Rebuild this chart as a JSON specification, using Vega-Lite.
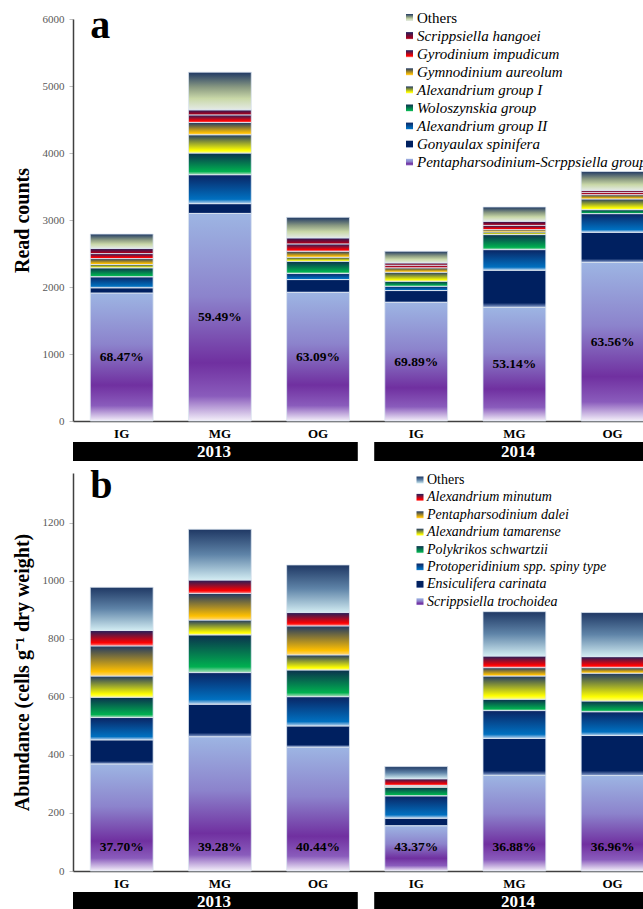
{
  "$schema": "https://vega.github.io/schema/vega-lite/v6.json",
  "padding": {"left": 12, "top": 5, "right": 0, "bottom": 0},
  "config": {"view": {"stroke": null}, "font": "Liberation Serif"},
  "datasets": {
    "a": [
      {"bar": "2013 IG", "taxon": "Pentapharsodinium-Scrppsiella group I", "k": 1, "count": 1910, "pct": "68.47%"},
      {"bar": "2013 IG", "taxon": "Gonyaulax spinifera", "k": 2, "count": 78},
      {"bar": "2013 IG", "taxon": "Alexandrium group II", "k": 3, "count": 164},
      {"bar": "2013 IG", "taxon": "Woloszynskia group", "k": 4, "count": 134},
      {"bar": "2013 IG", "taxon": "Alexandrium group I", "k": 5, "count": 49},
      {"bar": "2013 IG", "taxon": "Gymnodinium aureolum", "k": 6, "count": 89},
      {"bar": "2013 IG", "taxon": "Gyrodinium impudicum", "k": 7, "count": 75},
      {"bar": "2013 IG", "taxon": "Scrippsiella hangoei", "k": 8, "count": 75},
      {"bar": "2013 IG", "taxon": "Others", "k": 9, "count": 216},
      {"bar": "2013 MG", "taxon": "Pentapharsodinium-Scrppsiella group I", "k": 1, "count": 3097, "pct": "59.49%"},
      {"bar": "2013 MG", "taxon": "Gonyaulax spinifera", "k": 2, "count": 147},
      {"bar": "2013 MG", "taxon": "Alexandrium group II", "k": 3, "count": 432},
      {"bar": "2013 MG", "taxon": "Woloszynskia group", "k": 4, "count": 323},
      {"bar": "2013 MG", "taxon": "Alexandrium group I", "k": 5, "count": 273},
      {"bar": "2013 MG", "taxon": "Gymnodinium aureolum", "k": 6, "count": 183},
      {"bar": "2013 MG", "taxon": "Gyrodinium impudicum", "k": 7, "count": 114},
      {"bar": "2013 MG", "taxon": "Scrippsiella hangoei", "k": 8, "count": 75},
      {"bar": "2013 MG", "taxon": "Others", "k": 9, "count": 562},
      {"bar": "2013 OG", "taxon": "Pentapharsodinium-Scrppsiella group I", "k": 1, "count": 1918, "pct": "63.09%"},
      {"bar": "2013 OG", "taxon": "Gonyaulax spinifera", "k": 2, "count": 193},
      {"bar": "2013 OG", "taxon": "Alexandrium group II", "k": 3, "count": 90},
      {"bar": "2013 OG", "taxon": "Woloszynskia group", "k": 4, "count": 183},
      {"bar": "2013 OG", "taxon": "Alexandrium group I", "k": 5, "count": 60},
      {"bar": "2013 OG", "taxon": "Gymnodinium aureolum", "k": 6, "count": 89},
      {"bar": "2013 OG", "taxon": "Gyrodinium impudicum", "k": 7, "count": 110},
      {"bar": "2013 OG", "taxon": "Scrippsiella hangoei", "k": 8, "count": 90},
      {"bar": "2013 OG", "taxon": "Others", "k": 9, "count": 307},
      {"bar": "2014 IG", "taxon": "Pentapharsodinium-Scrppsiella group I", "k": 1, "count": 1770, "pct": "69.89%"},
      {"bar": "2014 IG", "taxon": "Gonyaulax spinifera", "k": 2, "count": 177},
      {"bar": "2014 IG", "taxon": "Alexandrium group II", "k": 3, "count": 65},
      {"bar": "2014 IG", "taxon": "Woloszynskia group", "k": 4, "count": 74},
      {"bar": "2014 IG", "taxon": "Alexandrium group I", "k": 5, "count": 135},
      {"bar": "2014 IG", "taxon": "Gymnodinium aureolum", "k": 6, "count": 65},
      {"bar": "2014 IG", "taxon": "Gyrodinium impudicum", "k": 7, "count": 39},
      {"bar": "2014 IG", "taxon": "Scrippsiella hangoei", "k": 8, "count": 35},
      {"bar": "2014 IG", "taxon": "Others", "k": 9, "count": 173},
      {"bar": "2014 MG", "taxon": "Pentapharsodinium-Scrppsiella group I", "k": 1, "count": 1697, "pct": "53.14%"},
      {"bar": "2014 MG", "taxon": "Gonyaulax spinifera", "k": 2, "count": 553},
      {"bar": "2014 MG", "taxon": "Alexandrium group II", "k": 3, "count": 308},
      {"bar": "2014 MG", "taxon": "Woloszynskia group", "k": 4, "count": 224},
      {"bar": "2014 MG", "taxon": "Alexandrium group I", "k": 5, "count": 40},
      {"bar": "2014 MG", "taxon": "Gymnodinium aureolum", "k": 6, "count": 34},
      {"bar": "2014 MG", "taxon": "Gyrodinium impudicum", "k": 7, "count": 64},
      {"bar": "2014 MG", "taxon": "Scrippsiella hangoei", "k": 8, "count": 60},
      {"bar": "2014 MG", "taxon": "Others", "k": 9, "count": 214},
      {"bar": "2014 OG", "taxon": "Pentapharsodinium-Scrppsiella group I", "k": 1, "count": 2368, "pct": "63.56%"},
      {"bar": "2014 OG", "taxon": "Gonyaulax spinifera", "k": 2, "count": 448},
      {"bar": "2014 OG", "taxon": "Alexandrium group II", "k": 3, "count": 279},
      {"bar": "2014 OG", "taxon": "Woloszynskia group", "k": 4, "count": 59},
      {"bar": "2014 OG", "taxon": "Alexandrium group I", "k": 5, "count": 160},
      {"bar": "2014 OG", "taxon": "Gymnodinium aureolum", "k": 6, "count": 64},
      {"bar": "2014 OG", "taxon": "Gyrodinium impudicum", "k": 7, "count": 34},
      {"bar": "2014 OG", "taxon": "Scrippsiella hangoei", "k": 8, "count": 30},
      {"bar": "2014 OG", "taxon": "Others", "k": 9, "count": 283}
    ],
    "b": [
      {"bar": "2013 IG", "taxon": "Scrippsiella trochoidea", "k": 1, "count": 369, "pct": "37.70%"},
      {"bar": "2013 IG", "taxon": "Ensiculifera carinata", "k": 2, "count": 83},
      {"bar": "2013 IG", "taxon": "Protoperidinium spp. spiny type", "k": 3, "count": 77},
      {"bar": "2013 IG", "taxon": "Polykrikos schwartzii", "k": 4, "count": 70},
      {"bar": "2013 IG", "taxon": "Alexandrium tamarense", "k": 5, "count": 73},
      {"bar": "2013 IG", "taxon": "Pentapharsodinium dalei", "k": 6, "count": 104},
      {"bar": "2013 IG", "taxon": "Alexandrium minutum", "k": 7, "count": 53},
      {"bar": "2013 IG", "taxon": "Others", "k": 8, "count": 149},
      {"bar": "2013 MG", "taxon": "Scrippsiella trochoidea", "k": 1, "count": 463, "pct": "39.28%"},
      {"bar": "2013 MG", "taxon": "Ensiculifera carinata", "k": 2, "count": 112},
      {"bar": "2013 MG", "taxon": "Protoperidinium spp. spiny type", "k": 3, "count": 109},
      {"bar": "2013 MG", "taxon": "Polykrikos schwartzii", "k": 4, "count": 130},
      {"bar": "2013 MG", "taxon": "Alexandrium tamarense", "k": 5, "count": 51},
      {"bar": "2013 MG", "taxon": "Pentapharsodinium dalei", "k": 6, "count": 92},
      {"bar": "2013 MG", "taxon": "Alexandrium minutum", "k": 7, "count": 46},
      {"bar": "2013 MG", "taxon": "Others", "k": 8, "count": 175},
      {"bar": "2013 OG", "taxon": "Scrippsiella trochoidea", "k": 1, "count": 427, "pct": "40.44%"},
      {"bar": "2013 OG", "taxon": "Ensiculifera carinata", "k": 2, "count": 73},
      {"bar": "2013 OG", "taxon": "Protoperidinium spp. spiny type", "k": 3, "count": 101},
      {"bar": "2013 OG", "taxon": "Polykrikos schwartzii", "k": 4, "count": 92},
      {"bar": "2013 OG", "taxon": "Alexandrium tamarense", "k": 5, "count": 52},
      {"bar": "2013 OG", "taxon": "Pentapharsodinium dalei", "k": 6, "count": 100},
      {"bar": "2013 OG", "taxon": "Alexandrium minutum", "k": 7, "count": 46},
      {"bar": "2013 OG", "taxon": "Others", "k": 8, "count": 164},
      {"bar": "2014 IG", "taxon": "Scrippsiella trochoidea", "k": 1, "count": 156, "pct": "43.37%"},
      {"bar": "2014 IG", "taxon": "Ensiculifera carinata", "k": 2, "count": 26},
      {"bar": "2014 IG", "taxon": "Protoperidinium spp. spiny type", "k": 3, "count": 77},
      {"bar": "2014 IG", "taxon": "Polykrikos schwartzii", "k": 4, "count": 30},
      {"bar": "2014 IG", "taxon": "Alexandrium tamarense", "k": 5, "count": 3},
      {"bar": "2014 IG", "taxon": "Pentapharsodinium dalei", "k": 6, "count": 3},
      {"bar": "2014 IG", "taxon": "Alexandrium minutum", "k": 7, "count": 23},
      {"bar": "2014 IG", "taxon": "Others", "k": 8, "count": 42},
      {"bar": "2014 MG", "taxon": "Scrippsiella trochoidea", "k": 1, "count": 330, "pct": "36.88%"},
      {"bar": "2014 MG", "taxon": "Ensiculifera carinata", "k": 2, "count": 127},
      {"bar": "2014 MG", "taxon": "Protoperidinium spp. spiny type", "k": 3, "count": 96},
      {"bar": "2014 MG", "taxon": "Polykrikos schwartzii", "k": 4, "count": 39},
      {"bar": "2014 MG", "taxon": "Alexandrium tamarense", "k": 5, "count": 80},
      {"bar": "2014 MG", "taxon": "Pentapharsodinium dalei", "k": 6, "count": 29},
      {"bar": "2014 MG", "taxon": "Alexandrium minutum", "k": 7, "count": 40},
      {"bar": "2014 MG", "taxon": "Others", "k": 8, "count": 153},
      {"bar": "2014 OG", "taxon": "Scrippsiella trochoidea", "k": 1, "count": 329, "pct": "36.96%"},
      {"bar": "2014 OG", "taxon": "Ensiculifera carinata", "k": 2, "count": 138},
      {"bar": "2014 OG", "taxon": "Protoperidinium spp. spiny type", "k": 3, "count": 82},
      {"bar": "2014 OG", "taxon": "Polykrikos schwartzii", "k": 4, "count": 37},
      {"bar": "2014 OG", "taxon": "Alexandrium tamarense", "k": 5, "count": 96},
      {"bar": "2014 OG", "taxon": "Pentapharsodinium dalei", "k": 6, "count": 19},
      {"bar": "2014 OG", "taxon": "Alexandrium minutum", "k": 7, "count": 38},
      {"bar": "2014 OG", "taxon": "Others", "k": 8, "count": 152}
    ],
    "years": [{"year": "2013"}, {"year": "2014"}]
  },
  "resolve": {"scale": {"x": "independent", "y": "independent", "color": "independent"}, "legend": {"color": "independent"}},
  "spacing": 4,
  "vconcat": [
    {
      "spacing": 2,
      "resolve": {"scale": {"x": "independent", "y": "independent", "color": "independent"}},
      "vconcat": [
        {
          "width": 571,
          "height": 402,
          "data": {"name": "a"},
          "layer": [
            {
              "mark": {"type": "bar", "stroke": "#dbe4f0", "strokeWidth": 0.8},
              "encoding": {
                "x": {"field": "bar", "type": "nominal", "sort": null,
                  "scale": {"paddingInner": 0.36, "paddingOuter": 0.088, "align": 1},
                  "axis": {"title": null, "labelExpr": "slice(datum.label, 5)", "labelAngle": 0, "labelFontSize": 13, "labelFontWeight": "bold", "labelColor": "#000", "labelFont": "Liberation Serif", "ticks": false, "labelPadding": 6, "domainColor": "#404040", "domainWidth": 1.5}},
                "y": {"field": "count", "type": "quantitative", "stack": "zero",
                  "scale": {"domain": [0, 6000], "nice": false},
                  "axis": {"title": "Read counts", "format": "d", "titleFontSize": 20, "titleFont": "Liberation Serif", "titleFontWeight": "bold", "titleColor": "#000", "titlePadding": 10, "values": [0, 1000, 2000, 3000, 4000, 5000, 6000], "labelFontSize": 11, "labelFont": "Liberation Serif", "labelColor": "#595959", "labelPadding": 5, "tickSize": 4, "tickColor": "#bfbfbf", "domainColor": "#404040", "domainWidth": 1.5, "grid": false}},
                "color": {"field": "taxon", "type": "nominal",
                  "scale": {
                    "domain": ["Others", "Scrippsiella hangoei", "Gyrodinium impudicum", "Gymnodinium aureolum", "Alexandrium group I", "Woloszynskia group", "Alexandrium group II", "Gonyaulax spinifera", "Pentapharsodinium-Scrppsiella group I"],
                    "range": [
                      {"expr": "{gradient:'linear',x1:0,y1:0,x2:0,y2:1,stops:[{offset:0,color:'#1f3864'},{offset:0.4,color:'#8a9a82'},{offset:0.7,color:'#c9d8a8'},{offset:1,color:'#e4eae6'}]}"},
                      {"expr": "{gradient:'linear',x1:0,y1:0,x2:0,y2:1,stops:[{offset:0,color:'#1f1f5c'},{offset:0.8,color:'#a00020'},{offset:1,color:'#c04050'}]}"},
                      {"expr": "{gradient:'linear',x1:0,y1:0,x2:0,y2:1,stops:[{offset:0,color:'#1f2060'},{offset:0.8,color:'#ff0000'},{offset:1,color:'#ff8080'}]}"},
                      {"expr": "{gradient:'linear',x1:0,y1:0,x2:0,y2:1,stops:[{offset:0,color:'#1f3864'},{offset:0.85,color:'#ffc000'},{offset:1,color:'#ffd878'}]}"},
                      {"expr": "{gradient:'linear',x1:0,y1:0,x2:0,y2:1,stops:[{offset:0,color:'#1f3864'},{offset:0.85,color:'#ffff00'},{offset:1,color:'#ffff80'}]}"},
                      {"expr": "{gradient:'linear',x1:0,y1:0,x2:0,y2:1,stops:[{offset:0,color:'#0b2f4e'},{offset:0.85,color:'#00b050'},{offset:1,color:'#b0e0c0'}]}"},
                      {"expr": "{gradient:'linear',x1:0,y1:0,x2:0,y2:1,stops:[{offset:0,color:'#0a2463'},{offset:0.85,color:'#0070c0'},{offset:1,color:'#bcd4ee'}]}"},
                      {"expr": "{gradient:'linear',x1:0,y1:0,x2:0,y2:1,stops:[{offset:0,color:'#002060'},{offset:0.88,color:'#002060'},{offset:1,color:'#8ea4d2'}]}"},
                      {"expr": "{gradient:'linear',x1:0,y1:0,x2:0,y2:1,stops:[{offset:0,color:'#9db5e3'},{offset:0.4,color:'#8c83cc'},{offset:0.72,color:'#7030a0'},{offset:0.88,color:'#8a5cbc'},{offset:1,color:'#f4f0fa'}]}"}
                    ]
                  },
                  "legend": {"title": null, "orient": "none", "legendX": 329, "legendY": -9, "symbolType": "square", "symbolSize": 49, "symbolStrokeWidth": 0, "labelFontSize": 15, "labelFont": "Liberation Serif", "labelColor": "#000", "rowPadding": 2.1, "labelOffset": 0, "padding": 0, "labelLimit": 0,
                    "labelFontStyle": {"expr": "datum.label === 'Others' ? 'normal' : 'italic'"}}},
                "order": {"field": "k", "type": "quantitative"}
              }
            },
            {
              "transform": [{"filter": "datum.k == 1"}, {"calculate": "datum.count / 2", "as": "mid"}],
              "mark": {"type": "text", "fontSize": 13.5, "fontWeight": "bold", "color": "#000", "font": "Liberation Serif"},
              "encoding": {
                "x": {"field": "bar", "type": "nominal", "sort": null},
                "y": {"field": "mid", "type": "quantitative"},
                "text": {"field": "pct"}
              }
            },
            {
              "data": {"values": [{"letter": "a"}]},
              "mark": {"type": "text", "fontSize": 40, "fontWeight": "bold", "align": "left", "baseline": "alphabetic", "color": "#000", "font": "Liberation Serif"},
              "encoding": {
                "x": {"datum": "2013 IG", "type": "nominal", "bandPosition": 0},
                "y": {"datum": 5720, "type": "quantitative"},
                "text": {"field": "letter"}
              }
            }
          ]
        },
        {
          "width": 571,
          "height": 19,
          "data": {"name": "years"},
          "layer": [
            {
              "mark": {"type": "bar", "color": "#000", "clip": true},
              "encoding": {"x": {"field": "year", "type": "nominal", "scale": {"range": [-3, 589], "paddingInner": 0.054, "paddingOuter": 0}, "axis": null}}
            },
            {
              "mark": {"type": "text", "color": "#fff", "fontSize": 17, "fontWeight": "bold", "font": "Liberation Serif"},
              "encoding": {"x": {"field": "year", "type": "nominal"}, "text": {"field": "year"}}
            }
          ]
        }
      ]
    },
    {
      "spacing": 2,
      "resolve": {"scale": {"x": "independent", "y": "independent", "color": "independent"}},
      "vconcat": [
        {
          "width": 571,
          "height": 398,
          "data": {"name": "b"},
          "layer": [
            {
              "mark": {"type": "bar", "stroke": "#dbe4f0", "strokeWidth": 0.8},
              "encoding": {
                "x": {"field": "bar", "type": "nominal", "sort": null,
                  "scale": {"paddingInner": 0.36, "paddingOuter": 0.088, "align": 1},
                  "axis": {"title": null, "labelExpr": "slice(datum.label, 5)", "labelAngle": 0, "labelFontSize": 13, "labelFontWeight": "bold", "labelColor": "#000", "labelFont": "Liberation Serif", "ticks": false, "labelPadding": 6, "domainColor": "#404040", "domainWidth": 1.5}},
                "y": {"field": "count", "type": "quantitative", "stack": "zero",
                  "scale": {"domain": [0, 1372], "nice": false},
                  "axis": {"title": "Abundance (cells g⁻¹ dry weight)", "format": "d", "titleFontSize": 20, "titleFont": "Liberation Serif", "titleFontWeight": "bold", "titleColor": "#000", "titlePadding": 10, "values": [0, 200, 400, 600, 800, 1000, 1200], "labelFontSize": 11, "labelFont": "Liberation Serif", "labelColor": "#595959", "labelPadding": 5, "tickSize": 4, "tickColor": "#bfbfbf", "domainColor": "#404040", "domainWidth": 1.5, "grid": false}},
                "color": {"field": "taxon", "type": "nominal",
                  "scale": {
                    "domain": ["Others", "Alexandrium minutum", "Pentapharsodinium dalei", "Alexandrium tamarense", "Polykrikos schwartzii", "Protoperidinium spp. spiny type", "Ensiculifera carinata", "Scrippsiella trochoidea"],
                    "range": [
                      {"expr": "{gradient:'linear',x1:0,y1:0,x2:0,y2:1,stops:[{offset:0,color:'#1f3864'},{offset:0.5,color:'#5f84a8'},{offset:1,color:'#d2ecf2'}]}"},
                      {"expr": "{gradient:'linear',x1:0,y1:0,x2:0,y2:1,stops:[{offset:0,color:'#1f1f5c'},{offset:0.8,color:'#ff0000'},{offset:1,color:'#ff8080'}]}"},
                      {"expr": "{gradient:'linear',x1:0,y1:0,x2:0,y2:1,stops:[{offset:0,color:'#1f3864'},{offset:0.85,color:'#ffc000'},{offset:1,color:'#ffd878'}]}"},
                      {"expr": "{gradient:'linear',x1:0,y1:0,x2:0,y2:1,stops:[{offset:0,color:'#1f3864'},{offset:0.85,color:'#ffff00'},{offset:1,color:'#ffff80'}]}"},
                      {"expr": "{gradient:'linear',x1:0,y1:0,x2:0,y2:1,stops:[{offset:0,color:'#0b2f4e'},{offset:0.85,color:'#00b050'},{offset:1,color:'#b0e0c0'}]}"},
                      {"expr": "{gradient:'linear',x1:0,y1:0,x2:0,y2:1,stops:[{offset:0,color:'#0a2463'},{offset:0.85,color:'#0070c0'},{offset:1,color:'#bcd4ee'}]}"},
                      {"expr": "{gradient:'linear',x1:0,y1:0,x2:0,y2:1,stops:[{offset:0,color:'#002060'},{offset:0.88,color:'#002060'},{offset:1,color:'#8ea4d2'}]}"},
                      {"expr": "{gradient:'linear',x1:0,y1:0,x2:0,y2:1,stops:[{offset:0,color:'#9db5e3'},{offset:0.4,color:'#8c83cc'},{offset:0.72,color:'#7030a0'},{offset:0.88,color:'#8a5cbc'},{offset:1,color:'#f4f0fa'}]}"}
                    ]
                  },
                  "legend": {"title": null, "orient": "none", "legendX": 340, "legendY": 0, "symbolType": "square", "symbolSize": 49, "symbolStrokeWidth": 0, "labelFontSize": 14, "labelFont": "Liberation Serif", "labelColor": "#000", "rowPadding": 3.4, "labelOffset": 0, "padding": 0, "labelLimit": 0,
                    "labelFontStyle": {"expr": "datum.label === 'Others' ? 'normal' : 'italic'"}}},
                "order": {"field": "k", "type": "quantitative"}
              }
            },
            {
              "transform": [{"filter": "datum.k == 1"}],
              "mark": {"type": "text", "fontSize": 13.5, "fontWeight": "bold", "color": "#000", "font": "Liberation Serif"},
              "encoding": {
                "x": {"field": "bar", "type": "nominal", "sort": null},
                "y": {"datum": 83, "type": "quantitative"},
                "text": {"field": "pct"}
              }
            },
            {
              "data": {"values": [{"letter": "b"}]},
              "mark": {"type": "text", "fontSize": 40, "fontWeight": "bold", "align": "left", "baseline": "alphabetic", "color": "#000", "font": "Liberation Serif"},
              "encoding": {
                "x": {"datum": "2013 IG", "type": "nominal", "bandPosition": 0},
                "y": {"datum": 1286, "type": "quantitative"},
                "text": {"field": "letter"}
              }
            }
          ]
        },
        {
          "width": 571,
          "height": 19,
          "data": {"name": "years"},
          "layer": [
            {
              "mark": {"type": "bar", "color": "#000", "clip": true},
              "encoding": {"x": {"field": "year", "type": "nominal", "scale": {"range": [-3, 589], "paddingInner": 0.054, "paddingOuter": 0}, "axis": null}}
            },
            {
              "mark": {"type": "text", "color": "#fff", "fontSize": 17, "fontWeight": "bold", "font": "Liberation Serif"},
              "encoding": {"x": {"field": "year", "type": "nominal"}, "text": {"field": "year"}}
            }
          ]
        }
      ]
    }
  ]
}
